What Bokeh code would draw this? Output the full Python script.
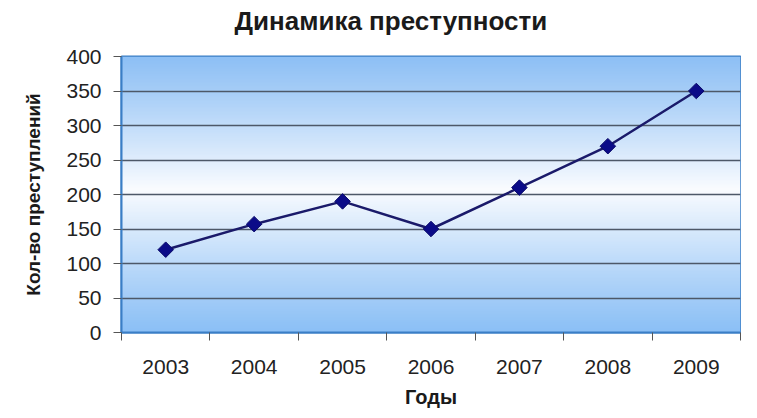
import numpy as np
from bokeh.plotting import figure
from bokeh.models import Range1d, FixedTicker, Title
from bokeh.embed import file_html
from bokeh.resources import INLINE

years = ["2003", "2004", "2005", "2006", "2007", "2008", "2009"]
crimes = [120, 157, 190, 150, 210, 270, 350]
y_ticks = [0, 50, 100, 150, 200, 250, 300, 350, 400]

title_text = "Динамика преступности"
x_label = "Годы"
y_label = "Кол-во преступлений"

FONT = "Liberation Sans"

n = len(years)
xs = [i + 0.5 for i in range(n)]

p = figure(width=741, height=418, output_backend="svg", toolbar_location=None,
           x_range=Range1d(0, n), y_range=Range1d(0, 400),
           min_border_left=121, min_border_right=1, min_border_top=56, min_border_bottom=86,
           background_fill_color="white", border_fill_color="white")
p.title.visible = False

# spacer between title and plot area, then the title itself
p.add_layout(Title(text=" ", text_font_size="14px", standoff=0, text_color="white"), "above")
p.add_layout(Title(text=title_text, align="left", offset=113, standoff=5,
                   text_font=FONT, text_font_size="26px", text_font_style="bold",
                   text_color="#1a1a1a"), "above")

# gradient background of the plot area (blue - white - blue)
N = 200
t = np.linspace(0, 1, N)
top = np.array([0x8e, 0xc0, 0xf5]); mid = np.array([0xfa, 0xfc, 0xff]); bot = np.array([0x8c, 0xc0, 0xf6])
cols = np.zeros((N, 3))
for i, v in enumerate(t):
    c = 0.52
    if v < c:
        f = (v / c) ** 1.1
        cols[i] = bot + (mid - bot) * f
    else:
        f = ((1 - v) / (1 - c)) ** 1.1
        cols[i] = top + (mid - top) * f
img = np.zeros((N, 1), dtype=np.uint32)
view = img.view(dtype=np.uint8).reshape((N, 1, 4))
view[:, 0, 0] = cols[:, 0]
view[:, 0, 1] = cols[:, 1]
view[:, 0, 2] = cols[:, 2]
view[:, 0, 3] = 255
p.image_rgba(image=[img], x=0, y=0, dw=n, dh=400, level="image")

p.line(xs, crimes, line_color="#1a1a6a", line_width=2.5)
p.scatter(xs, crimes, marker="square", angle=np.pi / 4, size=11,
          fill_color="#0b0b88", line_color="#0b0b6a")

p.outline_line_color = "#3a7ec6"
p.outline_line_width = 2

p.xgrid.visible = False
p.ygrid.ticker = FixedTicker(ticks=y_ticks)
p.ygrid.grid_line_color = "#4d5868"
p.ygrid.grid_line_width = 1.5

# x axis: ticks at category boundaries, labels at centers
xa = p.xaxis[0]
xa.ticker = FixedTicker(ticks=xs, minor_ticks=list(range(n + 1)))
xa.major_label_overrides = {x: y for x, y in zip(xs, years)}
xa.major_tick_line_color = None
xa.minor_tick_line_color = "#555555"
xa.minor_tick_out = 8
xa.minor_tick_in = 0
xa.major_tick_out = 8
xa.major_label_standoff = 19
xa.axis_line_color = "#3a7ec6"
xa.axis_line_width = 2
xa.major_label_text_font = FONT
xa.major_label_text_font_size = "21px"
xa.major_label_text_color = "#222222"
xa.axis_label = x_label
xa.axis_label_text_font = FONT
xa.axis_label_text_font_size = "20px"
xa.axis_label_text_font_style = "bold"
xa.axis_label_text_color = "#1a1a1a"
xa.axis_label_standoff = 9

ya = p.yaxis[0]
ya.ticker = FixedTicker(ticks=y_ticks)
ya.minor_tick_line_color = None
ya.major_tick_line_color = "#555555"
ya.major_tick_out = 8
ya.major_tick_in = 0
ya.major_label_standoff = 12
ya.axis_line_color = "#3a7ec6"
ya.axis_line_width = 2
ya.major_label_text_font = FONT
ya.major_label_text_font_size = "21px"
ya.major_label_text_color = "#222222"
ya.axis_label = y_label
ya.axis_label_text_font = FONT
ya.axis_label_text_font_size = "19px"
ya.axis_label_text_font_style = "bold"
ya.axis_label_text_color = "#1a1a1a"
ya.axis_label_standoff = 19

open("out.html", "w").write(file_html(p, INLINE))
